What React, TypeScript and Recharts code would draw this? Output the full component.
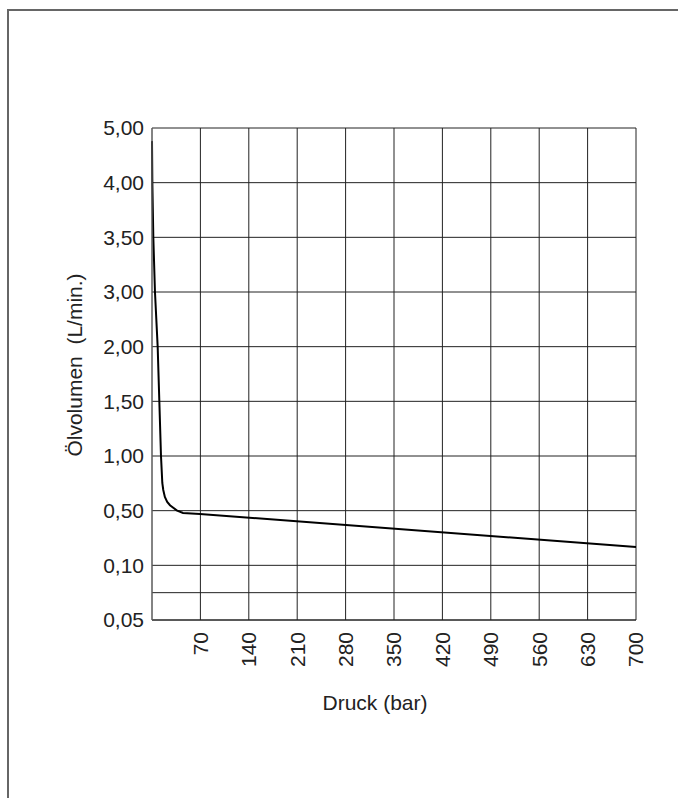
import React from 'react';
import { LineChart, Line, XAxis, YAxis, CartesianGrid, ReferenceLine, Label } from 'recharts';

// y axis is not linear: every labelled value sits one step apart
const yTickValues = [0.05, 0.1, 0.5, 1, 1.5, 2, 3, 3.5, 4, 5];
const yTickLabels = ['0,05', '0,10', '0,50', '1,00', '1,50', '2,00', '3,00', '3,50', '4,00', '5,00'];
const xTicks = [70, 140, 210, 280, 350, 420, 490, 560, 630, 700];
const extraGridValue = 0.075;

// Druck (bar) / Ölvolumen (L/min.)
const pressure = [0, 0.5, 1.9, 4.3, 8.2, 10.6, 13.0, 14.9, 16.3, 18.6, 22, 26, 35.7, 44.8, 69.4, 700];
const volume = [4.76, 4.0, 3.5, 3.0, 2.0, 1.5, 1.0, 0.753, 0.689, 0.625, 0.58, 0.55, 0.503, 0.483, 0.476, 0.234];

const toIndex = (v: number) => {
  for (let i = 0; i < yTickValues.length - 1; i++) {
    const a = yTickValues[i];
    const b = yTickValues[i + 1];
    if (v <= b) return i + (v - a) / (b - a);
  }
  return yTickValues.length - 1;
};

const data = pressure.map((p, i) => ({ p, v: toIndex(volume[i]) }));
const yIndexTicks = yTickValues.map((_, i) => i);

const font = '"Liberation Sans", Arial, sans-serif';
const fs = 21;

const XTick = (props: any) => {
  const { x, y, payload } = props;
  return (
    <g transform={`translate(${x},${y})`}>
      <text transform="rotate(-90)" x={-4} dy="0.35em" textAnchor="end" fontSize={fs} fill="#222" fontFamily={font}>
        {payload.value}
      </text>
    </g>
  );
};

export default function App() {
  return (
    <div style={{ position: 'absolute', left: 0, top: 0, width: 678, height: 798, background: '#fff' }}>
      <div
        style={{
          position: 'absolute',
          left: 7,
          top: 9,
          width: 700,
          height: 800,
          borderTop: '2px solid #666',
          borderLeft: '2px solid #666',
        }}
      />
      <div style={{ position: 'absolute', left: 0, top: 0 }}>
        <LineChart width={678} height={798} data={data} margin={{ top: 128, right: 42, bottom: 0, left: 0 }}>
          <CartesianGrid stroke="#222" strokeWidth={1} />
          <XAxis
            type="number"
            dataKey="p"
            domain={[0, 700]}
            ticks={xTicks}
            tickLine={false}
            axisLine={{ stroke: '#222' }}
            tick={<XTick />}
            height={178}
            interval={0}
          >
            <Label
              content={() => (
                <text x={375} y={710} textAnchor="middle" fontSize={fs} fill="#222" fontFamily={font}>
                  Druck (bar)
                </text>
              )}
            />
          </XAxis>
          <YAxis
            type="number"
            domain={[0, 9]}
            ticks={yIndexTicks}
            interval={0}
            width={152}
            tickLine={false}
            axisLine={{ stroke: '#777' }}
            tickFormatter={(i: number) => yTickLabels[i]}
            tick={{ fontSize: fs, fill: '#222', fontFamily: font }}
          >
            <Label
              content={() => (
                <text
                  transform="translate(82,365) rotate(-90)"
                  textAnchor="middle"
                  fontSize={fs}
                  fill="#222"
                  fontFamily={font}
                  style={{ whiteSpace: 'pre' }}
                >
                  {'Ölvolumen  (L/min.)'}
                </text>
              )}
            />
          </YAxis>
          <ReferenceLine y={toIndex(extraGridValue)} stroke="#222" strokeWidth={1} />
          <Line
            type="linear"
            dataKey="v"
            stroke="#000"
            strokeWidth={2}
            dot={false}
            isAnimationActive={false}
          />
        </LineChart>
      </div>
    </div>
  );
}
